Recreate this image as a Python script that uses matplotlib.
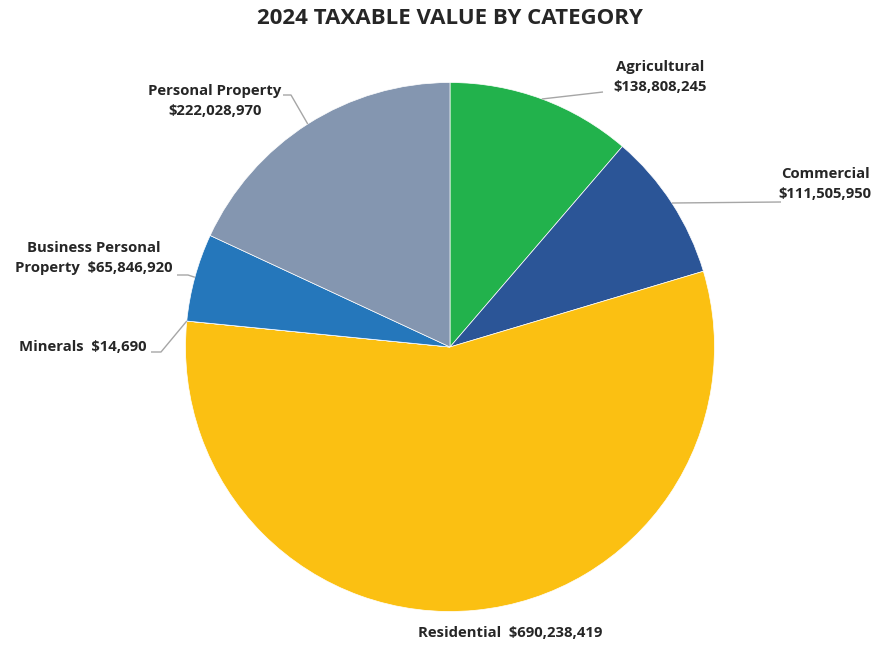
import matplotlib.pyplot as plt
import numpy as np

categories = ["Agricultural", "Commercial", "Residential", "Minerals",
              "Business Personal Property", "Personal Property"]
values = [138808245, 111505950, 690238419, 14690, 65846920, 222028970]
label_texts = ["Agricultural\n$138,808,245",
               "Commercial\n$111,505,950",
               "Residential  $690,238,419",
               "Minerals  $14,690",
               "Business Personal\nProperty  $65,846,920",
               "Personal Property\n$222,028,970"]
colors = ["#22B24C", "#2B5597", "#FBC012", "#ED7D31", "#2577BB", "#8496B0"]
title = "2024 TAXABLE VALUE BY CATEGORY"

W, H, DPI = 890, 645, 100
CX, CY, R = 450, 347, 264.5

def px(x):
    return (x - CX) / R

def py(y):
    return (CY - y) / R

plt.rcParams['font.family'] = ['Open Sans', 'DejaVu Sans']
fig = plt.figure(figsize=(W / DPI, H / DPI), dpi=DPI)
ax = fig.add_axes([0, 0, 1, 1])

wedges, _ = ax.pie(values, colors=colors, startangle=90, counterclock=False,
                   radius=1.0, center=(0, 0), frame=True,
                   wedgeprops=dict(edgecolor='white', linewidth=0.5))
ax.set_xlim(px(0), px(W))
ax.set_ylim(py(H), py(0))
ax.set_aspect('equal')
ax.axis('off')

# layout: text position (px), leader path (px) after wedge anchor
layout = {
    "Agricultural": dict(xy=(660, 77), path=[(603, 92)]),
    "Commercial": dict(xy=(825, 184), path=[(781, 202)]),
    "Residential": dict(xy=(510, 633), path=None),
    "Minerals": dict(xy=(83, 347), path=[(161, 352), (151, 352)]),
    "Business Personal Property": dict(xy=(94, 258), path=[(188, 275), (177, 275)]),
    "Personal Property": dict(xy=(215, 101), path=[(291, 95), (283, 95)]),
}

text_color = '#262626'
line_color = '#A6A6A6'
for w, cat, txt in zip(wedges, categories, label_texts):
    lay = layout[cat]
    ang = np.deg2rad((w.theta1 + w.theta2) / 2)
    if lay['path'] is not None:
        xs = [np.cos(ang)] + [px(p[0]) for p in lay['path']]
        ys = [np.sin(ang)] + [py(p[1]) for p in lay['path']]
        ax.plot(xs, ys, color=line_color, lw=1.0, solid_capstyle='butt', zorder=3)
    ax.text(px(lay['xy'][0]), py(lay['xy'][1]), txt, ha='center', va='center',
            fontsize=10.7, fontweight='bold', color=text_color, linespacing=1.55,
            multialignment='center')

ax.text(px(450), py(18), title, ha='center', va='center', fontsize=16,
        fontweight='bold', color=text_color)

fig.savefig('out.png', dpi=DPI)
